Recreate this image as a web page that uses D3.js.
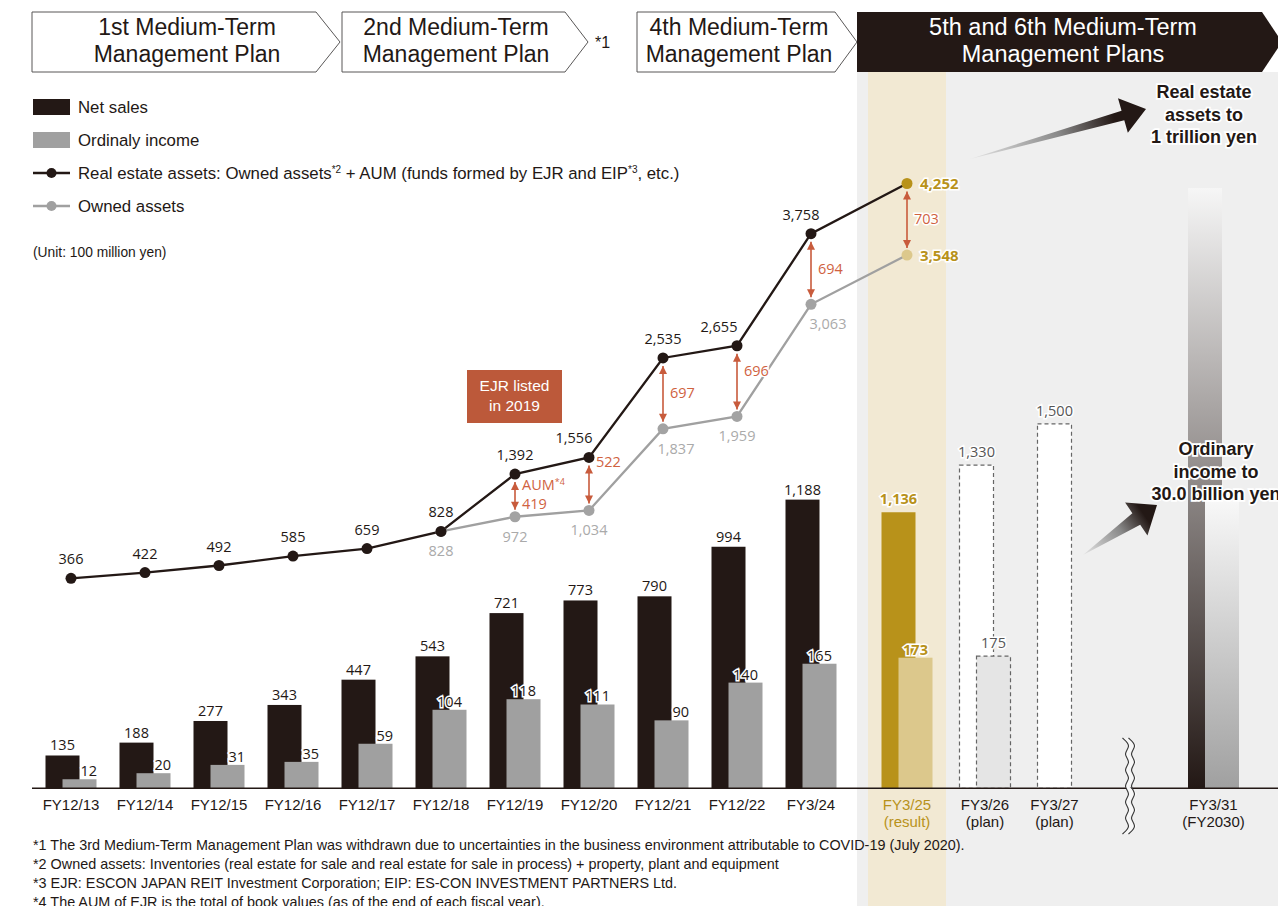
<!DOCTYPE html>
<html>
<head>
<meta charset="utf-8">
<script src="https://cdn.jsdelivr.net/npm/d3@7"></script>
<style>
  body { margin: 0; background: #fff; }
  svg { display: block; font-family: "Liberation Sans", Arial, sans-serif; }
  .num { font-family: "Open Sans", "Noto Sans", sans-serif; }
</style>
</head>
<body>
<div id="chart"></div>
<script>
// ---- data (unit: 100 million yen) ----
const histYears = ["FY12/13", "FY12/14", "FY12/15", "FY12/16", "FY12/17", "FY12/18",
                   "FY12/19", "FY12/20", "FY12/21", "FY12/22", "FY3/24"];
const netSales = [135, 188, 277, 343, 447, 543, 721, 773, 790, 994, 1188];
const ordinaryIncome = [12, 20, 31, 35, 59, 104, 118, 111, 90, 140, 165];

const planYears = ["FY3/25", "FY3/26", "FY3/27"];
const planNotes = ["(result)", "(plan)", "(plan)"];
const planNetSales = [1136, 1330, 1500];
const planOrdinaryIncome = [173, 175, null];

const targetYear = "FY3/31";
const targetNote = "(FY2030)";
// the 2030 target bars are drawn as illustrative gradients, not to scale
const targetNetBar = 2470;
const targetOrdinaryBar = 382;

const lineYears = [...histYears, "FY3/25"];
const realEstateAssets = [366, 422, 492, 585, 659, 828, 1392, 1556, 2535, 2655, 3758, 4252];
const ownedAssets = [null, null, null, null, null, 828, 972, 1034, 1837, 1959, 3063, 3548];

const aumYears = ["FY12/19", "FY12/20", "FY12/21", "FY12/22", "FY3/24", "FY3/25"];
const aumValues = [419, 522, 697, 696, 694, 703];

const footnotes = [
  "*1 The 3rd Medium-Term Management Plan was withdrawn due to uncertainties in the business environment attributable to COVID-19 (July 2020).",
  "*2 Owned assets: Inventories (real estate for sale and real estate for sale in process) + property, plant and equipment",
  "*3 EJR: ESCON JAPAN REIT Investment Corporation; EIP: ES-CON INVESTMENT PARTNERS Ltd.",
  "*4 The AUM of EJR is the total of book values (as of the end of each fiscal year)."
];

const planHeaders = [
  ["1st Medium-Term", "Management Plan"],
  ["2nd Medium-Term", "Management Plan"],
  ["4th Medium-Term", "Management Plan"],
  ["5th and 6th Medium-Term", "Management Plans"]
];

// ---- colours ----
const DARK = "#231815", GRAY = "#a0a0a0", GOLD = "#b8921a", LIGHTGOLD = "#dcc88c";
const RED = "#c85b3c", REDTXT = "#d0623f";

const W = 1278, H = 906;
const svg = d3.select("#chart").append("svg").attr("width", W).attr("height", H);
const defs = svg.append("defs");

// ---- scales ----
const xHist = d3.scaleBand().domain(histYears).range([34, 848]);
const xPlan = d3.scaleBand().domain(planYears).range([868, 1102]);
const xTarget = d3.scaleBand().domain([targetYear]).range([1176, 1251]);
function xc(year) {
  const s = histYears.includes(year) ? xHist : planYears.includes(year) ? xPlan : xTarget;
  return s(year) + s.bandwidth() / 2;
}
const baseY = 788.3;
const yNet = d3.scaleLinear().domain([0, 1000]).range([baseY, baseY - 243]);
const yOrd = d3.scaleLinear().domain([0, 100]).range([baseY, baseY - 75.5]);
const yAsset = d3.scaleLinear().domain([0, 4000]).range([615.5, 209.1]);

const barW = 34, netOff = -25.5, ordOff = -8.5;

// ---- backgrounds ----
svg.append("rect").attr("x", 857).attr("y", 72).attr("width", W - 857).attr("height", H - 72)
  .attr("fill", "#efefef");
svg.append("rect").attr("x", xPlan("FY3/25")).attr("y", 72)
  .attr("width", xPlan.bandwidth()).attr("height", H - 72).attr("fill", "#f2e9d3");

// ---- header arrows ----
const headerBoxes = [
  { x0: 32, x1: 316, tip: 340, tx: 187 },
  { x0: 342, x1: 565, tip: 588, tx: 456 },
  { x0: 637, x1: 835, tip: 857, tx: 739 },
  { x0: 857, x1: 1262, tip: 1282, tx: 1063 }
];
headerBoxes.forEach((b, i) => {
  const dark = i === 3;
  svg.append("path")
    .attr("d", `M${b.x0},12 L${b.x1},12 L${b.tip},42 L${b.x1},72 L${b.x0},72 Z`)
    .attr("fill", dark ? DARK : "#fff")
    .attr("stroke", dark ? "none" : "#595757").attr("stroke-width", 1);
  planHeaders[i].forEach((t, j) => {
    svg.append("text").attr("x", b.tx).attr("y", 35 + j * 27)
      .attr("text-anchor", "middle").attr("font-size", dark ? 23.5 : 23)
      .attr("fill", dark ? "#fff" : DARK).text(t);
  });
});
svg.append("text").attr("x", 595).attr("y", 48).attr("font-size", 16).attr("fill", DARK).text("*1");

// ---- legend ----
const legend = svg.append("g");
legend.append("rect").attr("x", 33).attr("y", 99).attr("width", 37).attr("height", 16).attr("fill", DARK);
legend.append("rect").attr("x", 33).attr("y", 132).attr("width", 37).attr("height", 16).attr("fill", GRAY);
[[173, DARK], [206, GRAY]].forEach(([y, c]) => {
  legend.append("line").attr("x1", 33).attr("x2", 70).attr("y1", y).attr("y2", y)
    .attr("stroke", c).attr("stroke-width", 2.3);
  legend.append("circle").attr("cx", 51.5).attr("cy", y).attr("r", 5).attr("fill", c);
});
const legText = (y) => legend.append("text").attr("x", 78).attr("y", y).attr("font-size", 16.8).attr("fill", DARK);
legText(113).text("Net sales");
legText(146).text("Ordinaly income");
const lt = legText(179);
lt.append("tspan").text("Real estate assets: Owned assets");
lt.append("tspan").attr("font-size", 10).attr("dy", -6).text("*2");
lt.append("tspan").attr("dy", 6).text(" + AUM (funds formed by EJR and EIP");
lt.append("tspan").attr("font-size", 10).attr("dy", -6).text("*3");
lt.append("tspan").attr("dy", 6).text(", etc.)");
legText(212).text("Owned assets");
legend.append("text").attr("x", 33).attr("y", 257).attr("font-size", 13.8).attr("fill", DARK)
  .text("(Unit: 100 million yen)");

// ---- bars: history ----
const hist = histYears.map((y, i) => ({ year: y, net: netSales[i], ord: ordinaryIncome[i] }));
const barsG = svg.append("g");
barsG.selectAll(".net").data(hist).join("rect").attr("class", "net")
  .attr("x", d => xc(d.year) + netOff).attr("width", barW)
  .attr("y", d => yNet(d.net)).attr("height", d => baseY - yNet(d.net)).attr("fill", DARK);
barsG.selectAll(".ord").data(hist).join("rect").attr("class", "ord")
  .attr("x", d => xc(d.year) + ordOff).attr("width", barW)
  .attr("y", d => yOrd(d.ord)).attr("height", d => baseY - yOrd(d.ord)).attr("fill", GRAY);
barsG.selectAll(".netlab").data(hist).join("text").attr("class", "num")
  .attr("x", d => xc(d.year) + netOff + barW / 2).attr("y", d => yNet(d.net) - 5)
  .attr("text-anchor", "middle").attr("font-size", 14.5).attr("fill", DARK).text(d => d3.format(",")(d.net));
barsG.selectAll(".ordlab").data(hist).join("text").attr("class", "num")
  .attr("x", d => d.ord < 100 ? xc(d.year) + netOff + barW + 1 : xc(d.year) + ordOff + barW / 2)
  .attr("text-anchor", d => d.ord < 100 ? "start" : "middle")
  .attr("y", d => yOrd(d.ord) - 3).attr("font-size", 14.5).attr("fill", DARK)
  .attr("stroke", "#fff").attr("stroke-width", 3).attr("paint-order", "stroke")
  .text(d => d.ord);

// ---- bars: plan ----
const plan = planYears.map((y, i) => ({ year: y, net: planNetSales[i], ord: planOrdinaryIncome[i], note: planNotes[i] }));
plan.forEach((d, i) => {
  const c = xc(d.year), result = i === 0;
  const netAttrs = result ? { fill: GOLD } : { fill: "#fff", stroke: "#666", "stroke-dasharray": "4,3", "stroke-width": 1.2 };
  const r = barsG.append("rect").attr("x", c + netOff).attr("width", barW)
    .attr("y", yNet(d.net)).attr("height", baseY - yNet(d.net));
  Object.entries(netAttrs).forEach(([k, v]) => r.attr(k, v));
  barsG.append("text").attr("class", "num").attr("x", c + netOff + barW / 2).attr("y", yNet(d.net) - 8)
    .attr("text-anchor", "middle").attr("font-size", 14.5)
    .attr("font-weight", result ? "bold" : "normal").attr("fill", result ? GOLD : "#555")
    .attr("stroke", "#fff").attr("stroke-width", 3).attr("paint-order", "stroke")
    .text(d3.format(",")(d.net));
  if (d.ord != null) {
    const o = barsG.append("rect").attr("x", c + ordOff).attr("width", barW)
      .attr("y", yOrd(d.ord)).attr("height", baseY - yOrd(d.ord));
    if (result) o.attr("fill", LIGHTGOLD);
    else o.attr("fill", "#e5e5e5").attr("stroke", "#666").attr("stroke-dasharray", "4,3").attr("stroke-width", 1.2);
    barsG.append("text").attr("class", "num").attr("x", c + ordOff + barW / 2)
      .attr("y", yOrd(d.ord) - (result ? 3 : 8))
      .attr("text-anchor", "middle").attr("font-size", 14.5)
      .attr("font-weight", result ? "bold" : "normal").attr("fill", result ? GOLD : "#555")
      .attr("stroke", "#fff").attr("stroke-width", 3).attr("paint-order", "stroke")
      .text(d.ord);
  }
});

// ---- bars: 2030 target (gradients) ----
function vGrad(id, top, bottom) {
  const g = defs.append("linearGradient").attr("id", id).attr("x1", 0).attr("x2", 0).attr("y1", 0).attr("y2", 1);
  g.append("stop").attr("offset", 0).attr("stop-color", top);
  g.append("stop").attr("offset", 1).attr("stop-color", bottom);
}
vGrad("gNet", "#f6f6f6", DARK);
vGrad("gOrd", "#f8f8f8", "#a0a0a0");
const tc = xc(targetYear);
barsG.append("rect").attr("x", tc + netOff).attr("width", barW)
  .attr("y", yNet(targetNetBar)).attr("height", baseY - yNet(targetNetBar)).attr("fill", "url(#gNet)");
barsG.append("rect").attr("x", tc + ordOff).attr("width", barW)
  .attr("y", yOrd(targetOrdinaryBar)).attr("height", baseY - yOrd(targetOrdinaryBar)).attr("fill", "url(#gOrd)");

// ---- axis ----
svg.append("line").attr("x1", 32).attr("x2", W).attr("y1", baseY).attr("y2", baseY)
  .attr("stroke", DARK).attr("stroke-width", 1.4);
const axisG = svg.append("g").attr("font-size", 15).attr("text-anchor", "middle");
histYears.forEach(y => axisG.append("text").attr("x", xc(y)).attr("y", 810).attr("fill", DARK).text(y));
plan.forEach((d, i) => {
  const x = d.ord == null ? xc(d.year) + netOff + barW / 2 : xc(d.year);
  const col = i === 0 ? GOLD : DARK;
  axisG.append("text").attr("x", x).attr("y", 810).attr("fill", col).text(d.year);
  axisG.append("text").attr("x", x).attr("y", 827).attr("fill", col).text(d.note);
});
axisG.append("text").attr("x", tc).attr("y", 810).attr("fill", DARK).text(targetYear);
axisG.append("text").attr("x", tc).attr("y", 827).attr("fill", DARK).text(targetNote);

// axis break: two wavy lines
const breakX = 1130;
const wave = d3.line().curve(d3.curveBasis);
const wavePts = (dx) => d3.range(0, 13).map(i => [breakX + dx + (i % 2 ? 4.5 : -4.5), 738 + i * 8]);
svg.append("path")
  .attr("d", wave(wavePts(-3)) + " L" + wavePts(3).reverse().map(p => p.join(",")).join(" L") + " Z")
  .attr("fill", "#f7f7f7");
[-3, 3].forEach(dx => svg.append("path").attr("d", wave(wavePts(dx)))
  .attr("fill", "none").attr("stroke", "#333").attr("stroke-width", 1.1));

// ---- lines ----
const pts = lineYears.map((y, i) => ({ year: y, real: realEstateAssets[i], owned: ownedAssets[i], x: xc(y) }));
const line = d3.line().defined(d => d.v != null).x(d => d.x).y(d => yAsset(d.v));
svg.append("path").attr("d", line(pts.map(p => ({ x: p.x, v: p.owned }))))
  .attr("fill", "none").attr("stroke", GRAY).attr("stroke-width", 2.3);
svg.append("path").attr("d", line(pts.map(p => ({ x: p.x, v: p.real }))))
  .attr("fill", "none").attr("stroke", DARK).attr("stroke-width", 2.3);

// AUM arrows
defs.append("marker").attr("id", "ah").attr("viewBox", "0 0 10 10").attr("refX", 10).attr("refY", 5)
  .attr("markerWidth", 9).attr("markerHeight", 8).attr("markerUnits", "userSpaceOnUse")
  .attr("orient", "auto-start-reverse")
  .append("path").attr("d", "M0,0 L10,5 L0,10 Z").attr("fill", RED);
const labelNudge = { "FY12/20": -22, "FY12/22": -10 };
aumYears.forEach((y, i) => {
  const p = pts.find(d => d.year === y);
  const y1 = yAsset(p.real) + 8, y2 = yAsset(p.owned) - 7;
  svg.append("line").attr("x1", p.x).attr("x2", p.x).attr("y1", y1).attr("y2", y2)
    .attr("stroke", RED).attr("stroke-width", 1.6)
    .attr("marker-start", "url(#ah)").attr("marker-end", "url(#ah)");
  const mid = (yAsset(p.real) + yAsset(p.owned)) / 2 + (labelNudge[y] || 0);
  const t = svg.append("text").attr("class", "num").attr("x", p.x + 7).attr("font-size", 14.5)
    .attr("fill", REDTXT).attr("stroke", "#fff").attr("stroke-width", 3).attr("paint-order", "stroke");
  if (i === 0) {
    t.attr("y", mid - 5);
    t.append("tspan").text("AUM");
    t.append("tspan").attr("font-size", 9).attr("dy", -5).text("*4");
    svg.append("text").attr("class", "num").attr("x", p.x + 7).attr("y", mid + 14).attr("font-size", 14.5)
      .attr("fill", REDTXT).text(aumValues[i]);
  } else {
    t.attr("y", mid + 5).text(aumValues[i]);
  }
});

// dots
const last = pts.length - 1;
svg.selectAll(".odot").data(pts.filter(p => p.owned != null)).join("circle")
  .attr("cx", d => d.x).attr("cy", d => yAsset(d.owned)).attr("r", 5.5)
  .attr("fill", d => d.year === "FY3/25" ? LIGHTGOLD : "#a3a3a3");
svg.selectAll(".rdot").data(pts).join("circle")
  .attr("cx", d => d.x).attr("cy", d => yAsset(d.real)).attr("r", 5.5)
  .attr("fill", d => d.year === "FY3/25" ? GOLD : DARK);

// line labels
const realShift = { "FY12/20": -15, "FY12/22": -18, "FY3/24": -10 };
const ownedShift = { "FY12/21": 13, "FY3/24": 17 };
pts.slice(0, last).forEach(p => {
  svg.append("text").attr("class", "num").attr("x", p.x + (realShift[p.year] || 0)).attr("y", yAsset(p.real) - 14)
    .attr("text-anchor", "middle").attr("font-size", 14.5).attr("fill", DARK)
    .text(d3.format(",")(p.real));
  if (p.owned != null) {
    svg.append("text").attr("class", "num").attr("x", p.x + (ownedShift[p.year] || 0)).attr("y", yAsset(p.owned) + 25)
      .attr("text-anchor", "middle").attr("font-size", 14.5).attr("fill", "#aaa")
      .text(d3.format(",")(p.owned));
  }
});
const lp = pts[last];
[lp.real, lp.owned].forEach(v => {
  svg.append("text").attr("class", "num").attr("x", lp.x + 13).attr("y", yAsset(v) + 5.5)
    .attr("font-size", 15).attr("font-weight", "bold").attr("fill", GOLD)
    .attr("stroke", "#fff").attr("stroke-width", 3).attr("paint-order", "stroke")
    .text(d3.format(",")(v));
});

// ---- EJR listed box ----
svg.append("rect").attr("x", 467).attr("y", 370).attr("width", 95).attr("height", 53).attr("fill", "#bc593a");
["EJR listed", "in 2019"].forEach((t, i) => svg.append("text").attr("x", 514.5).attr("y", 391 + i * 20)
  .attr("text-anchor", "middle").attr("font-size", 15.5).attr("fill", "#fff").text(t));

// ---- big gradient arrows ----
function arrowPoly(t, h, headLen, headHalf, shaftHalf) {
  const dx = h[0] - t[0], dy = h[1] - t[1], L = Math.hypot(dx, dy);
  const ux = dx / L, uy = dy / L, nx = -uy, ny = ux;
  const b = [h[0] - ux * headLen, h[1] - uy * headLen];
  const p = k => [b[0] + nx * k, b[1] + ny * k];
  return [t, p(shaftHalf), p(headHalf), h, p(-headHalf), p(-shaftHalf)];
}
function bigArrow(id, t, h, headLen, headHalf, shaftHalf) {
  const g = defs.append("linearGradient").attr("id", id).attr("gradientUnits", "userSpaceOnUse")
    .attr("x1", t[0]).attr("y1", t[1]).attr("x2", h[0]).attr("y2", h[1]);
  g.append("stop").attr("offset", 0).attr("stop-color", "#e6e6e6");
  g.append("stop").attr("offset", 0.5).attr("stop-color", "#8a8a8a");
  g.append("stop").attr("offset", 0.82).attr("stop-color", DARK);
  svg.append("polygon").attr("points", arrowPoly(t, h, headLen, headHalf, shaftHalf).map(p => p.join(",")).join(" "))
    .attr("fill", `url(#${id})`);
}
bigArrow("a1", [970, 159], [1146, 109], 24, 18, 5);
bigArrow("a2", [1083, 555], [1157, 505], 25, 20, 7);

const callout = (lines, cx, y0) => lines.forEach((t, i) => svg.append("text")
  .attr("x", cx).attr("y", y0 + i * 22.5).attr("text-anchor", "middle")
  .attr("font-size", 18).attr("font-weight", "bold").attr("fill", DARK)
  .attr("stroke", "#fff").attr("stroke-width", 3.5).attr("paint-order", "stroke").text(t));
callout(["Real estate", "assets to", "1 trillion yen"], 1204, 98);
callout(["Ordinary", "income to", "30.0 billion yen"], 1216, 455);

// ---- footnotes ----
footnotes.forEach((t, i) => svg.append("text").attr("x", 33).attr("y", 850 + i * 19)
  .attr("font-size", 14.4).attr("fill", DARK).text(t));
</script>
</body>
</html>
